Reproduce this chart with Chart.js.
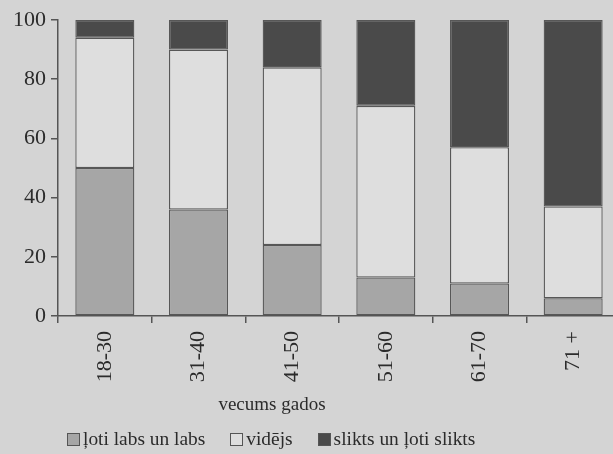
<!DOCTYPE html>
<html>
<head>
<meta charset="utf-8">
<script src="https://cdn.jsdelivr.net/npm/chart.js@4"></script>
<style>
  html, body { margin: 0; padding: 0; background: #d4d4d4; }
  #wrap { position: relative; width: 613px; height: 454px; overflow: hidden; background: #d4d4d4; }
  #chart { position: absolute; left: 0; top: 0; }
  .serif { font-family: "Liberation Serif", "DejaVu Serif", serif; color: #2b2b2b; }
  #xtitle { position: absolute; left: 172px; width: 200px; top: 393px; text-align: center; font-size: 19px; }
  #legend { position: absolute; left: 67px; top: 428px; display: flex; align-items: center; font-size: 19.4px; white-space: nowrap; }
  #legend .item { display: flex; align-items: center; margin-right: 25px; }
  #legend .box { width: 11px; height: 11px; border: 1.5px solid #555; margin-right: 3px; }
</style>
</head>
<body>
<div id="wrap">
  <canvas id="chart" width="620" height="454"></canvas>
  <div id="xtitle" class="serif">vecums gados</div>
  <div id="legend" class="serif"></div>
</div>
<script>
(function () {
  "use strict";

  var ageGroups = ["18-30", "31-40", "41-50", "51-60", "61-70", "71 +"];
  var seriesNames = ["ļoti labs un labs", "vidējs", "slikts un ļoti slikts"];
  var goodValues = [50, 36, 24, 13, 11, 6];
  var averageValues = [44, 54, 60, 58, 46, 31];
  var badValues = [6, 10, 16, 29, 43, 63];
  var yTicks = [0, 20, 40, 60, 80, 100];

  var colors = ["#a6a6a6", "#dedede", "#4a4a4a"];
  var edge = "#575757";
  var textColor = "#2b2b2b";
  var fontFamily = "'Liberation Serif', 'DejaVu Serif', serif";

  function makeSet(idx, values) {
    return {
      label: seriesNames[idx],
      data: values,
      backgroundColor: colors[idx],
      borderColor: edge,
      borderWidth: 1.3,
      borderSkipped: false,
      barPercentage: 0.63,
      categoryPercentage: 1.0
    };
  }

  new Chart(document.getElementById("chart"), {
    type: "bar",
    data: {
      labels: ageGroups,
      datasets: [
        makeSet(0, goodValues),
        makeSet(1, averageValues),
        makeSet(2, badValues)
      ]
    },
    options: {
      responsive: false,
      animation: false,
      layout: { padding: { top: 20, left: 0, right: 0, bottom: 0 } },
      plugins: {
        legend: { display: false },
        tooltip: { enabled: false }
      },
      scales: {
        x: {
          stacked: true,
          offset: true,
          border: { display: true, color: "#555", width: 1.5 },
          grid: {
            offset: true,
            drawOnChartArea: false,
            drawTicks: true,
            tickLength: 7,
            color: "#555",
            lineWidth: 1.5
          },
          ticks: {
            color: textColor,
            font: { family: fontFamily, size: 22 },
            minRotation: 90,
            maxRotation: 90,
            padding: 8
          },
          afterFit: function (scale) { scale.height = 138; }
        },
        y: {
          stacked: true,
          min: 0,
          max: 100,
          afterBuildTicks: function (scale) {
            scale.ticks = yTicks.map(function (v) { return { value: v }; });
          },
          border: { display: true, color: "#555", width: 1.5 },
          grid: {
            drawOnChartArea: false,
            drawTicks: true,
            tickLength: 7,
            color: "#555",
            lineWidth: 1.5
          },
          ticks: {
            color: textColor,
            font: { family: fontFamily, size: 22 },
            padding: 5
          },
          afterFit: function (scale) { scale.width = 58; }
        }
      }
    }
  });

  var legend = document.getElementById("legend");
  seriesNames.forEach(function (name, i) {
    var item = document.createElement("div");
    item.className = "item";
    var box = document.createElement("span");
    box.className = "box";
    box.style.background = colors[i];
    var txt = document.createElement("span");
    txt.textContent = name;
    item.appendChild(box);
    item.appendChild(txt);
    legend.appendChild(item);
  });
})();
</script>
</body>
</html>
